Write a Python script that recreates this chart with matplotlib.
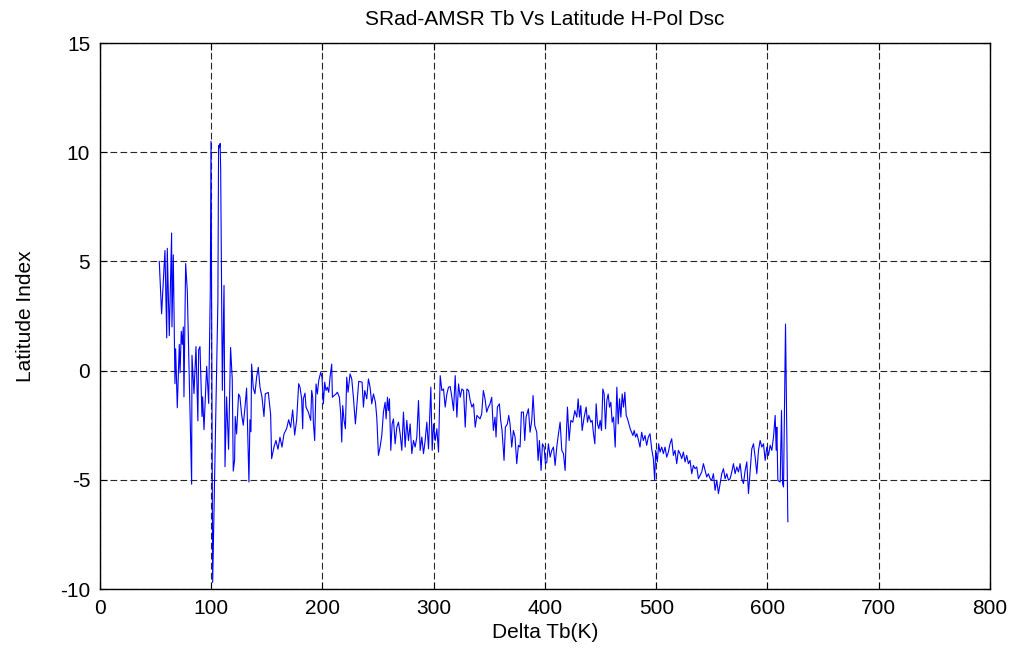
import numpy as np
import matplotlib.pyplot as plt

plt.rcParams['font.family'] = ['Liberation Sans', 'DejaVu Sans']
plt.rcParams['axes.unicode_minus'] = False

# Tramo inicial (muy ruidoso, con los picos cerca de 100)
x_a = [53.3, 55.4, 58.4, 60.0, 60.5, 62.3, 64.4, 64.7, 65.9, 67.4,
       68.0, 69.5, 71.3, 72.0, 73.1, 74.0, 74.9, 75.5, 77.0, 78.5,
       82.4, 82.7, 84.5, 86.3, 88.0, 88.7, 89.9, 91.7, 92.3, 93.5,
       95.9, 97.7, 99.2, 99.8, 101.3, 106.0, 106.6, 107.4, 108.0, 108.5,
       110.0, 111.5, 112.4, 113.8, 115.6, 117.4, 118.9, 119.8, 121.0, 121.6,
       122.8, 124.6, 125.8, 127.3, 128.8, 130.3, 131.8, 133.9, 134.8, 135.7,
       136.3, 137.8, 139.3, 140.8, 142.3, 143.8, 145.6, 147.4, 148.6, 151.3,
       153.4, 154.3, 156.4, 158.2, 160.0, 161.8, 163.6, 165.4, 167.8, 169.6,
       171.4, 173.2, 175.0, 176.8, 178.6]
y_a = [5.0, 2.6, 5.5, 1.5, 5.6, 1.6, 6.3, 2.0, 5.3, -0.6,
       1.0, -1.7, 1.2, -0.1, 1.8, 1.2, 2.0, -1.2, 4.9, 3.65,
       -5.2, 0.7, -1.05, 1.1, -2.3, 0.95, 1.1, -2.1, -1.2, -2.7,
       0.2, -1.5, 3.8, 10.5, -9.7, 3.2, 10.3, 10.2, 10.4, 9.2,
       -0.9, 3.9, -4.4, -1.2, -3.6, 1.06, -0.4, -4.6, -4.1, -2.1,
       -2.9, -1.07, -1.2, -2.0, -2.5, -1.7, -0.8, -5.1, -2.25, -2.8,
       0.3, -0.8, -1.06, -0.3, 0.15, -0.75, -1.2, -2.1, -1.06, -1.0,
       -2.0, -4.03, -3.5, -3.2, -3.6, -3.05, -3.5, -2.9, -2.65, -2.25,
       -2.6, -1.8, -2.95, -2.25, -0.6]

# Tramo 180-340
x_b = [179.8, 181.3, 182.2, 182.8, 184.3, 185.2, 187.3, 189.4, 190.3, 191.2,
       191.8, 193.0, 194.2, 195.4, 196.6, 198.4, 199.6, 200.8, 202.0, 203.2,
       204.4, 205.6, 206.8, 208.3, 208.9, 210.4, 212.2, 213.4, 215.2, 216.4,
       217.3, 218.2, 219.4, 220.6, 221.8, 223.0, 224.8, 226.3, 227.8, 229.6,
       230.8, 232.6, 235.6, 236.8, 238.0, 239.8, 241.3, 242.8, 244.3, 245.8,
       247.6, 248.8, 250.3, 251.8, 253.3, 254.8, 256.3, 257.2, 258.4, 259.3,
       260.2, 261.4, 262.6, 263.8, 265.3, 266.8, 268.3, 269.8, 271.3, 272.8,
       274.3, 275.8, 277.3, 278.8, 280.3, 281.8, 283.3, 284.8, 286.3, 287.8,
       289.3, 290.8, 292.3, 293.8, 295.3, 296.2, 297.4, 298.6, 299.8, 301.3,
       302.8, 304.3, 305.8, 307.3, 308.8, 310.3, 311.8, 313.3, 314.8, 316.3,
       317.8, 319.3, 320.8, 322.3, 323.8, 325.3, 326.8, 328.3, 329.8, 331.3,
       332.8, 334.3, 335.8, 337.3, 338.8]
y_b = [-0.76, -1.29, -2.66, -1.29, -1.03, -1.67, -1.90, -2.28, -0.91, -1.22,
       -2.36, -3.20, -0.61, -1.07, -0.46, -0.08, -0.30, -1.52, -0.53, -0.91,
       -0.76, -0.99, -0.30, 0.30, -1.22, -1.14, -1.07, -0.99, -1.22, -1.98,
       -3.27, -1.60, -2.28, -2.66, -0.30, -0.99, -0.15, -0.38, -1.22, -2.44,
       -1.67, -0.49, -0.53, -1.67, -0.91, -1.29, -0.38, -0.76, -1.52, -1.07,
       -1.45, -2.13, -3.88, -3.50, -2.97, -1.90, -1.45, -2.21, -1.22, -1.83,
       -1.29, -3.65, -2.44, -2.21, -3.35, -2.59, -2.36, -2.89, -3.65, -1.90,
       -3.50, -2.28, -3.20, -2.44, -3.80, -3.20, -3.50, -3.04, -1.37, -3.65,
       -3.04, -3.80, -3.20, -2.36, -3.58, -2.36, -0.76, -3.65, -2.44, -3.20,
       -2.66, -3.73, -0.23, -0.91, -0.84, -1.67, -1.07, -0.76, -0.73, -1.22,
       -1.83, -0.23, -2.13, -0.61, -1.22, -0.84, -0.91, -2.59, -0.84, -0.91,
       -1.37, -1.67, -1.52, -2.59, -2.05]

# Tramo 340-485
x_c = [341.6, 343.1, 344.6, 346.1, 347.6, 349.1, 350.6, 352.1, 353.6, 355.1,
       356.0, 357.2, 359.0, 360.2, 361.4, 363.2, 364.4, 366.2, 367.4, 368.6,
       370.1, 371.6, 373.1, 374.6, 376.1, 377.6, 378.8, 380.6, 381.8, 383.0,
       385.1, 386.6, 388.1, 389.3, 390.8, 392.6, 393.8, 395.0, 396.5, 397.7,
       399.2, 400.4, 401.6, 403.1, 404.6, 406.1, 407.6, 409.1, 410.6, 412.1,
       413.6, 415.1, 416.6, 418.1, 419.0, 420.2, 421.7, 423.2, 425.0, 426.8,
       428.6, 429.8, 431.0, 432.2, 433.4, 435.2, 437.0, 438.2, 439.4, 441.2,
       442.4, 443.6, 444.8, 446.0, 447.2, 448.4, 449.6, 450.8, 452.0, 453.2,
       454.4, 455.6, 456.8, 458.0, 459.2, 460.4, 461.6, 463.1, 464.6, 465.8,
       467.0, 468.2, 469.4, 470.6, 471.8, 473.0, 474.2, 475.4, 476.6, 477.8,
       479.0, 480.2, 481.4, 482.6, 484.1]
y_c = [-2.21, -1.98, -0.91, -1.29, -1.90, -1.67, -1.52, -1.22, -2.74, -2.13,
       -3.04, -1.67, -1.52, -2.28, -2.74, -4.11, -2.59, -2.44, -2.05, -2.44,
       -3.50, -2.74, -3.04, -4.26, -3.42, -3.50, -1.90, -1.90, -3.20, -2.13,
       -1.75, -2.82, -2.28, -1.14, -2.51, -2.82, -4.11, -3.20, -4.57, -3.35,
       -3.50, -4.26, -4.19, -3.35, -3.96, -3.65, -3.50, -4.34, -3.50, -2.89,
       -2.36, -3.65, -3.80, -4.57, -3.20, -1.67, -3.20, -2.28, -2.36, -1.83,
       -2.13, -1.29, -2.13, -1.60, -2.74, -2.13, -1.67, -2.36, -2.05, -2.36,
       -2.28, -2.89, -3.35, -1.52, -2.44, -2.66, -2.28, -2.74, -0.84, -1.07,
       -2.66, -1.37, -1.07, -1.67, -1.45, -2.36, -2.13, -3.50, -0.76, -2.44,
       -1.29, -2.13, -1.07, -1.67, -0.99, -2.05, -2.21, -2.44, -2.66, -2.82,
       -2.97, -2.74, -3.04, -2.89, -3.20]

# Tramo final 485-618
x_d = [485.4, 486.9, 488.4, 489.9, 491.4, 492.9, 494.4, 495.9, 497.4, 498.6,
       499.5, 501.0, 502.2, 503.4, 504.9, 506.4, 507.9, 509.4, 510.9, 512.4,
       513.9, 515.4, 516.9, 518.4, 519.9, 521.4, 522.9, 524.4, 525.9, 527.4,
       528.9, 530.4, 531.9, 533.4, 534.9, 536.4, 537.9, 539.4, 540.9, 542.4,
       543.9, 545.4, 546.9, 548.4, 549.9, 551.4, 552.9, 554.4, 555.9, 557.4,
       558.9, 560.4, 561.9, 563.4, 564.9, 566.4, 567.9, 569.4, 570.9, 572.4,
       573.9, 575.4, 576.9, 578.4, 579.9, 581.4, 582.9, 584.4, 585.9, 587.4,
       588.9, 590.4, 591.9, 593.4, 594.9, 596.4, 597.9, 599.4, 600.9, 602.4,
       603.9, 605.4, 606.9, 607.8, 608.4, 609.3, 611.4, 612.6, 613.5, 614.4,
       616.2, 618.3]
y_d = [-3.50, -2.82, -3.20, -2.97, -3.42, -3.04, -2.89, -3.58, -4.03, -5.02,
       -3.65, -4.18, -3.35, -3.73, -3.50, -3.80, -3.50, -3.96, -3.73, -3.35,
       -3.12, -3.88, -3.65, -4.26, -3.65, -3.80, -4.03, -3.73, -4.18, -3.88,
       -4.26, -4.11, -4.72, -4.34, -4.49, -4.41, -4.95, -4.79, -4.64, -4.26,
       -4.57, -4.87, -4.72, -4.95, -5.02, -4.72, -5.48, -5.02, -5.63, -5.17,
       -4.72, -4.49, -4.95, -4.72, -5.02, -4.95, -4.64, -4.26, -4.72, -4.41,
       -4.64, -4.26, -4.95, -5.17, -4.57, -4.18, -5.63, -4.57, -3.58, -3.35,
       -3.96, -4.72, -3.65, -3.20, -3.50, -3.35, -4.11, -3.50, -3.88, -3.42,
       -3.65, -3.04, -2.05, -3.65, -2.59, -5.02, -5.10, -1.83, -5.17, -5.33,
       2.13, -6.92]

delta_tb = np.array(x_a + x_b + x_c + x_d)
lat_index = np.array(y_a + y_b + y_c + y_d)

fig = plt.figure(figsize=(10.18, 6.51), dpi=100)
ax = fig.add_axes([0.0982, 0.0952, 0.8743, 0.8387])

ax.plot(delta_tb, lat_index, color='blue', linewidth=0.8)

ax.set_xlim(0, 800)
ax.set_ylim(-10, 15)
ax.set_xticks(np.arange(0, 801, 100))
ax.set_yticks(np.arange(-10, 16, 5))

ax.grid(True, color='0.15', linestyle=(0, (6, 3)), linewidth=0.8)
ax.tick_params(direction='in', length=5, width=0.8, top=True, right=True,
               labelsize=15, pad=7, color='black')
for s in ax.spines.values():
    s.set_linewidth(1.0)

ax.set_title('SRad-AMSR Tb Vs Latitude H-Pol Dsc', fontsize=15, pad=13)
ax.set_xlabel('Delta Tb(K)', fontsize=15, labelpad=4)
ax.set_ylabel('Latitude Index', fontsize=15, labelpad=18)

fig.savefig('out.png', dpi=100, facecolor='white')
